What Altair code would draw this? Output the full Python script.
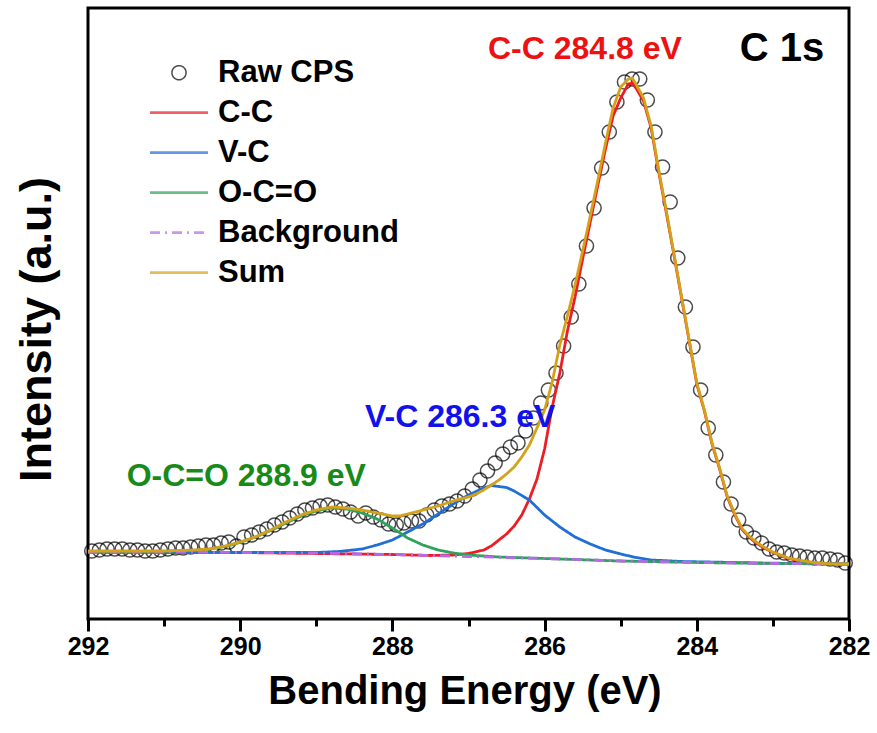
import altair as alt
import pandas as pd

FONT = "Liberation Sans"

# ---------------- data ----------------
# Raw CPS: 0.1 eV steps from 291.95 eV down to 282.05 eV
raw_energy = [round(291.95 - 0.1 * i, 2) for i in range(100)]
raw_cps = [68, 69, 70, 70, 70, 69, 69, 68, 68, 69,
           70, 71, 71, 72, 73, 74, 74, 76, 77, 73,
           82, 84, 87, 90, 94, 97, 101, 105, 109, 111,
           113, 114, 112, 110, 107, 103, 106, 102, 99, 95,
           94, 96, 98, 98, 104, 109, 113, 115, 118, 123,
           130, 139, 148, 156, 165, 172, 176, 188, 201, 216,
           229, 246, 273, 302, 335, 373, 411, 451, 487, 517,
           537, 540, 540, 519, 487, 452, 417, 361, 312, 272,
           229, 191, 164, 137, 115, 99, 87, 81, 76, 70,
           67, 66, 64, 63, 62, 61, 61, 60, 59, 56]

cc_energy = [292.0, 290.0, 288.0, 287.5, 287.2, 287.0, 286.8, 286.7, 286.6, 286.5,
             286.4, 286.3, 286.2, 286.1, 286.0, 285.9, 285.8, 285.7, 285.6, 285.5,
             285.4, 285.3, 285.2, 285.1, 285.0, 284.9, 284.85, 284.8, 284.7, 284.6,
             284.5, 284.4, 284.3, 284.2, 284.1, 284.0, 283.9, 283.8, 283.7, 283.6,
             283.5, 283.4, 283.3, 283.2, 283.1, 283.0, 282.8, 282.6, 282.4, 282.2, 282.0]
cc_vals = [67, 66.5, 64.5, 63.5, 64, 65.5, 69, 73, 79, 85,
           93, 104, 120, 140, 170, 212, 246, 288, 322, 360,
           397, 434, 470, 503, 521, 535, 536, 531, 518, 491,
           447, 406, 364, 321, 278, 235, 208, 175, 150, 122,
           104, 89, 81, 75, 70.5, 66.5, 60.5, 57.5, 55.8, 55, 55]

vc_energy = [292.0, 290.0, 289.0, 288.7, 288.4, 288.2, 288.0, 287.8, 287.6, 287.4,
             287.2, 287.0, 286.9, 286.8, 286.7, 286.6, 286.5, 286.4, 286.2, 286.0,
             285.8, 285.6, 285.4, 285.2, 285.0, 284.8, 284.6, 284.2, 283.0, 282.0]
vc_vals = [67, 66.5, 66.5, 67.5, 70, 74, 79, 87, 95, 105,
           115, 124, 127.5, 131, 133.5, 132.5, 131.5, 128, 119, 104,
           92, 82, 75, 69, 65, 61.5, 59, 57.5, 55.8, 55]

oc_energy = [292.0, 291.0, 290.6, 290.4, 290.2, 290.0, 289.8, 289.6, 289.4, 289.2,
             289.0, 288.8, 288.6, 288.4, 288.2, 288.0, 287.8, 287.6, 287.4, 287.2,
             287.0, 286.6, 286.0, 285.0, 284.0, 283.0, 282.0]
oc_vals = [67, 67.5, 68.5, 70, 72.5, 76.5, 82, 88.5, 96, 103,
           108, 111, 110, 106, 100, 91, 81, 74, 69, 66,
           64, 62, 60.5, 58, 56.5, 55.5, 55]

bg_energy = [292.0, 291.0, 290.0, 289.0, 288.0, 287.0, 286.0, 285.0, 284.0, 283.0, 282.0]
bg_vals = [67, 67, 66.5, 66, 64.5, 62.5, 60.5, 58, 56.5, 55.5, 55]

sum_energy = [292.0, 291.0, 290.6, 290.4, 290.2, 290.0, 289.8, 289.6, 289.4, 289.2,
              289.0, 288.8, 288.6, 288.4, 288.2, 288.0, 287.9, 287.8, 287.6, 287.4,
              287.2, 287.0, 286.9, 286.8, 286.7, 286.6, 286.5, 286.4, 286.3, 286.2,
              286.1, 286.0, 285.9, 285.8, 285.7, 285.6, 285.5, 285.4, 285.3, 285.2,
              285.1, 285.0, 284.9, 284.85, 284.8, 284.7, 284.6, 284.5, 284.4, 284.3,
              284.2, 284.1, 284.0, 283.9, 283.8, 283.7, 283.6, 283.5, 283.4, 283.3,
              283.2, 283.1, 283.0, 282.8, 282.6, 282.4, 282.2, 282.0]
sum_vals = [68, 68, 69, 70, 73, 77, 82, 89, 97, 104,
            109, 112, 111, 109, 106, 103, 103, 105, 109, 113,
            118, 122, 125, 129, 134, 139, 145, 152, 162, 174,
            191, 209, 237, 274, 303, 334, 368, 403, 439, 476,
            511, 532, 540, 541, 535, 521, 493, 449, 408, 365,
            322, 279, 236, 209, 176, 151, 123, 105, 90, 82,
            76, 71, 67, 61, 58, 56, 55, 55]

series_order = ["Raw CPS", "C-C", "V-C", "O-C=O", "Background", "Sum"]
series_colors = ["#000000", "#EE1C25", "#1F6FD6", "#2EA25C", "#B46BE6", "#D4A21A"]
series_shapes = ["circle", "stroke", "stroke", "stroke", "stroke", "stroke"]
series_sizes = [200, 3364, 3364, 3364, 3364, 3364]
series_widths = [1.5, 2.8, 2.8, 2.8, 2.8, 2.8]
series_dashes = [[1, 0], [1, 0], [1, 0], [1, 0], [10, 5, 2, 5], [1, 0]]

anno_text = ["C-C 284.8 eV", "V-C 286.3 eV", "O-C=O 288.9 eV", "C 1s"]
anno_energy = [285.47, 287.11, 289.92, 282.88]
anno_int = [570, 202, 143, 570]
anno_color = ["#EE1111", "#1111EE", "#188A18", "#000000"]
anno_size = [32, 32, 32, 40]

major_ticks = [282, 284, 286, 288, 290, 292]
minor_ticks = [283, 285, 287, 289, 291]

# ---------------- build ----------------
def frame(name, e, v):
    return pd.DataFrame({"E": e, "I": v, "series": name})

raw_df = frame("Raw CPS", raw_energy, raw_cps)
x_scale = alt.Scale(domain=[282, 292], reverse=True, nice=False, zero=False)

x_main = alt.X(
    "E:Q", scale=x_scale,
    axis=alt.Axis(
        values=major_ticks, orient="bottom",
        tickSize=12, tickWidth=3, tickColor="black", domain=False, grid=False,
        labelFont=FONT, labelFontSize=25, labelFontWeight="bold", labelColor="black",
        labelPadding=3, labelFlush=False, labelOverlap=False,
        title="Bending Energy (eV)", titleFont=FONT, titleFontSize=40,
        titleFontWeight="bold", titleColor="black", titlePadding=12, titleX=376.5,
    ),
)
x_minor = alt.X(
    "E:Q", scale=x_scale,
    axis=alt.Axis(values=minor_ticks, orient="bottom", tickSize=7, tickWidth=3,
                  tickColor="black", labels=False, domain=False, grid=False, title=None),
)
x_plain = alt.X("E:Q", scale=x_scale, axis=None)
y_enc = alt.Y(
    "I:Q",
    scale=alt.Scale(domain=[0, 611], nice=False, zero=False),
    axis=alt.Axis(
        labels=False, ticks=False, domain=False, grid=False,
        title="Intensity (a.u.)", titleFont=FONT, titleFontSize=45,
        titleFontWeight="bold", titleColor="black", titlePadding=29, titleY=321,
    ),
)

legend = alt.Legend(
    title=None, orient="none", legendX=60.5, legendY=49.2, padding=0,
    columns=1, clipHeight=31,
    labelFont=FONT, labelFontSize=31, labelFontWeight="bold", labelColor="black",
    labelLimit=0, symbolOffset=0, labelOffset=8.5, rowPadding=8,
)
color_enc = alt.Color("series:N",
                      scale=alt.Scale(domain=series_order, range=series_colors),
                      legend=legend)
shape_enc = alt.Shape("series:N",
                      scale=alt.Scale(domain=series_order, range=series_shapes),
                      legend=legend)
size_enc = alt.Size("series:N",
                    scale=alt.Scale(type="ordinal", domain=series_order, range=series_sizes),
                    legend=legend)
width_enc = alt.StrokeWidth("series:N",
                            scale=alt.Scale(type="ordinal", domain=series_order, range=series_widths),
                            legend=legend)
dash_enc = alt.StrokeDash("series:N",
                          scale=alt.Scale(domain=series_order, range=series_dashes),
                          legend=legend)

points = alt.Chart(raw_df).mark_point(filled=False).encode(
    x=x_main, y=y_enc, color=color_enc, shape=shape_enc, size=size_enc,
    strokeWidth=width_enc)

def line(df):
    return alt.Chart(df).mark_line(strokeWidth=2.8).encode(
        x=x_plain, y=y_enc, color=color_enc, strokeDash=dash_enc)

cc = line(frame("C-C", cc_energy, cc_vals))
vc = line(frame("V-C", vc_energy, vc_vals))
oc = line(frame("O-C=O", oc_energy, oc_vals))
bg = line(frame("Background", bg_energy, bg_vals))
sm = line(frame("Sum", sum_energy, sum_vals))

minor = alt.Chart(frame("Background", bg_energy, bg_vals)).mark_point(opacity=0).encode(
    x=x_minor, y=y_enc)

texts = []
for t, e, v, c, s in zip(anno_text, anno_energy, anno_int, anno_color, anno_size):
    tdf = pd.DataFrame({"E": [e], "I": [v], "label": [t]})
    texts.append(
        alt.Chart(tdf).mark_text(
            font=FONT, fontSize=s, fontWeight="bold", color=c,
            align="center", baseline="middle",
        ).encode(x=x_plain, y=y_enc, text="label:N")
    )

chart = alt.layer(points, cc, vc, oc, bg, sm, minor, *texts).resolve_axis(
    x="independent"
).properties(
    width=761, height=611,
    padding={"left": 88, "top": 8, "right": 28, "bottom": 114},
    autosize=alt.AutoSizeParams(type="none"),
    background="white",
).configure_view(stroke="black", strokeWidth=3)

chart.save("out.html", embed_options={"renderer": "svg", "actions": False})
